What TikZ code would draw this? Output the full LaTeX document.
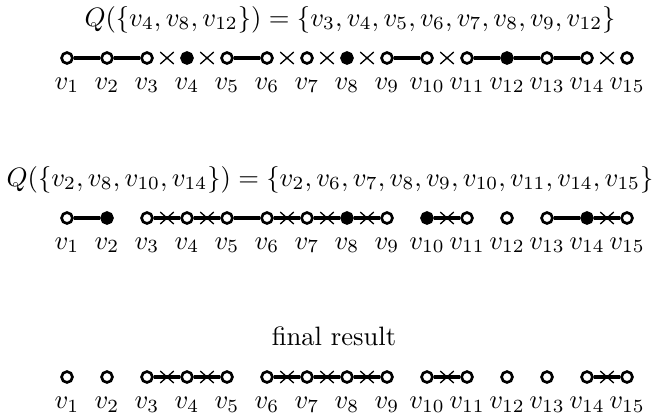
\documentclass[tikz,border=0pt]{standalone}
\usetikzlibrary{shapes.misc}
\begin{document}
\begin{tikzpicture}[x=0.376pt,y=-0.376pt,
  vtx/.style={circle,draw,line width=1pt,fill=white,inner sep=0pt,minimum size=4.1pt},
  full/.style={vtx,fill=black},
  edge/.style={line width=1.25pt},
  crossmark/.style={cross out,draw,line width=0.5pt,inner sep=0pt,minimum width=4.6pt,minimum height=4pt},
  lbl/.style={anchor=base,inner sep=0pt},
  ttl/.style={anchor=base,inner sep=0pt}]
\useasboundingbox (0,0) rectangle (655,417);
% titles
\node[ttl] (t1) at (350,26) {$Q(\{v_4,v_8,v_{12}\}) = \{v_3,v_4,v_5,v_6,v_7,v_8,v_9,v_{12}\}$};
\node[ttl] (t2) at (330,186) {$Q(\{v_2,v_8,v_{10},v_{14}\}) = \{v_2,v_6,v_7,v_8,v_9,v_{10},v_{11},v_{14},v_{15}\}$};
\node[ttl] (t3) at (334,345) {final result};
% row 1
\foreach \i/\s in {1/vtx,2/vtx,3/vtx,4/full,5/vtx,6/vtx,7/vtx,8/full,9/vtx,10/vtx,11/vtx,12/full,13/vtx,14/vtx,15/vtx}{
  \node[\s] (a\i) at ({27+40*\i},58) {};
  \node[lbl] (la\i) at ({27+40*\i},89) {$v_{\i}$};
}
\foreach \i/\j in {1/2,2/3,5/6,9/10,11/12,12/13,13/14}
  \draw[edge] (a\i) -- (a\j);
\foreach \i/\j in {3/4,4/5,6/7,7/8,8/9,10/11,14/15}
  \path (a\i) -- node[crossmark] (xa\i) {} (a\j);
% row 2
\foreach \i/\s in {1/vtx,2/full,3/vtx,4/vtx,5/vtx,6/vtx,7/vtx,8/full,9/vtx,10/full,11/vtx,12/vtx,13/vtx,14/full,15/vtx}{
  \node[\s] (b\i) at ({27+40*\i},218) {};
  \node[lbl] (lb\i) at ({27+40*\i},249) {$v_{\i}$};
}
\foreach \i/\j in {1/2,5/6,13/14}
  \draw[edge] (b\i) -- (b\j);
\foreach \i/\j in {3/4,4/5,6/7,7/8,8/9,10/11,14/15}
  \draw[edge] (b\i) -- node[crossmark] (xb\i) {} (b\j);
% row 3
\foreach \i in {1,...,15}{
  \node[vtx] (c\i) at ({27+40*\i},377) {};
  \node[lbl] (lc\i) at ({27+40*\i},408) {$v_{\i}$};
}
\foreach \i/\j in {3/4,4/5,6/7,7/8,8/9,10/11,14/15}
  \draw[edge] (c\i) -- node[crossmark] (xc\i) {} (c\j);
\end{tikzpicture}
\end{document}
